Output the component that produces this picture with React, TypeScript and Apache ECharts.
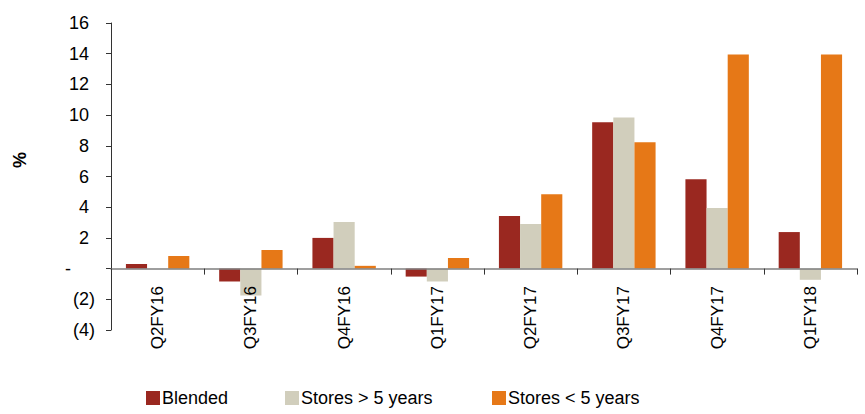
import React, { useEffect, useRef } from "react";
import * as echarts from "echarts";

const categories = ["Q2FY16", "Q3FY16", "Q4FY16", "Q1FY17", "Q2FY17", "Q3FY17", "Q4FY17", "Q1FY18"];
const blended = [0.3, -0.84, 2.0, -0.52, 3.42, 9.53, 5.82, 2.38];
const storesOver5 = [0, -1.75, 3.03, -0.84, 2.9, 9.85, 3.94, -0.73];
const storesUnder5 = [0.82, 1.21, 0.18, 0.69, 4.85, 8.23, 13.94, 13.94];
const seriesNames = ["Blended", "Stores > 5 years", "Stores < 5 years"];
const colors = ["#9A2820", "#D1CEBC", "#E67817"];
const legendLefts = [141, 280, 487];

const FONT = "'Liberation Sans Narrow', 'Liberation Sans', Arial, sans-serif";

export default function App() {
  const ref = useRef<HTMLDivElement>(null);
  useEffect(() => {
    document.body.style.margin = "0";
    const chart = echarts.init(ref.current!, null, { renderer: "svg" });
    const data = [blended, storesOver5, storesUnder5];
    const labelBase = { fontSize: 18, color: "#000", fontFamily: FONT };
    chart.setOption({
      animation: false,
      textStyle: { fontFamily: FONT },
      grid: { left: 111, right: 8, top: 23, bottom: 84, containLabel: false },
      legend: seriesNames.map((name, i) => ({
        bottom: 2,
        left: legendLefts[i],
        itemWidth: 14,
        itemHeight: 14,
        itemGap: 2,
        icon: "rect",
        textStyle: { fontFamily: FONT, fontSize: 18, color: "#000", padding: [0, 0, 0, -3] },
        data: [name],
      })),
      graphic: [
        {
          type: "text",
          x: 20,
          y: 160,
          rotation: Math.PI / 2,
          style: { text: "%", font: `bold 18px ${FONT}`, fill: "#000", align: "center", verticalAlign: "middle" },
        },
      ],
      xAxis: {
        type: "category",
        data: categories,
        z: 10,
        axisLine: { onZero: true, lineStyle: { color: "#7f7f7f", width: 1.5 } },
        axisTick: { show: true, length: 6, lineStyle: { color: "#333" } },
        axisLabel: { rotate: 90, fontSize: 17, color: "#000", margin: -44, fontFamily: FONT, interval: 0, overflow: "none" },
      },
      yAxis: {
        type: "value",
        min: -4,
        max: 16,
        interval: 2,
        splitLine: { show: false },
        axisLine: { show: true, lineStyle: { color: "#333" } },
        axisTick: { show: true, length: 5, lineStyle: { color: "#333" } },
        axisLabel: {
          ...labelBase,
          margin: 16,
          formatter: (v: number) =>
            v === 0 ? "{z|-}" : v < 0 ? `{n|(${Math.abs(v)})}` : `{p|${v}}`,
          rich: {
            p: { ...labelBase, padding: [0, 6, 0, 0] },
            n: { ...labelBase },
            z: { ...labelBase, padding: [0, 24, 0, 0] },
          },
        },
      },
      series: seriesNames.map((name, i) => ({
        name,
        type: "bar",
        data: data[i],
        barGap: "0%",
        barCategoryGap: "32%",
        itemStyle: { color: colors[i] },
      })),
    });
    return () => chart.dispose();
  }, []);
  return <div ref={ref} style={{ width: 865, height: 414 }} />;
}
